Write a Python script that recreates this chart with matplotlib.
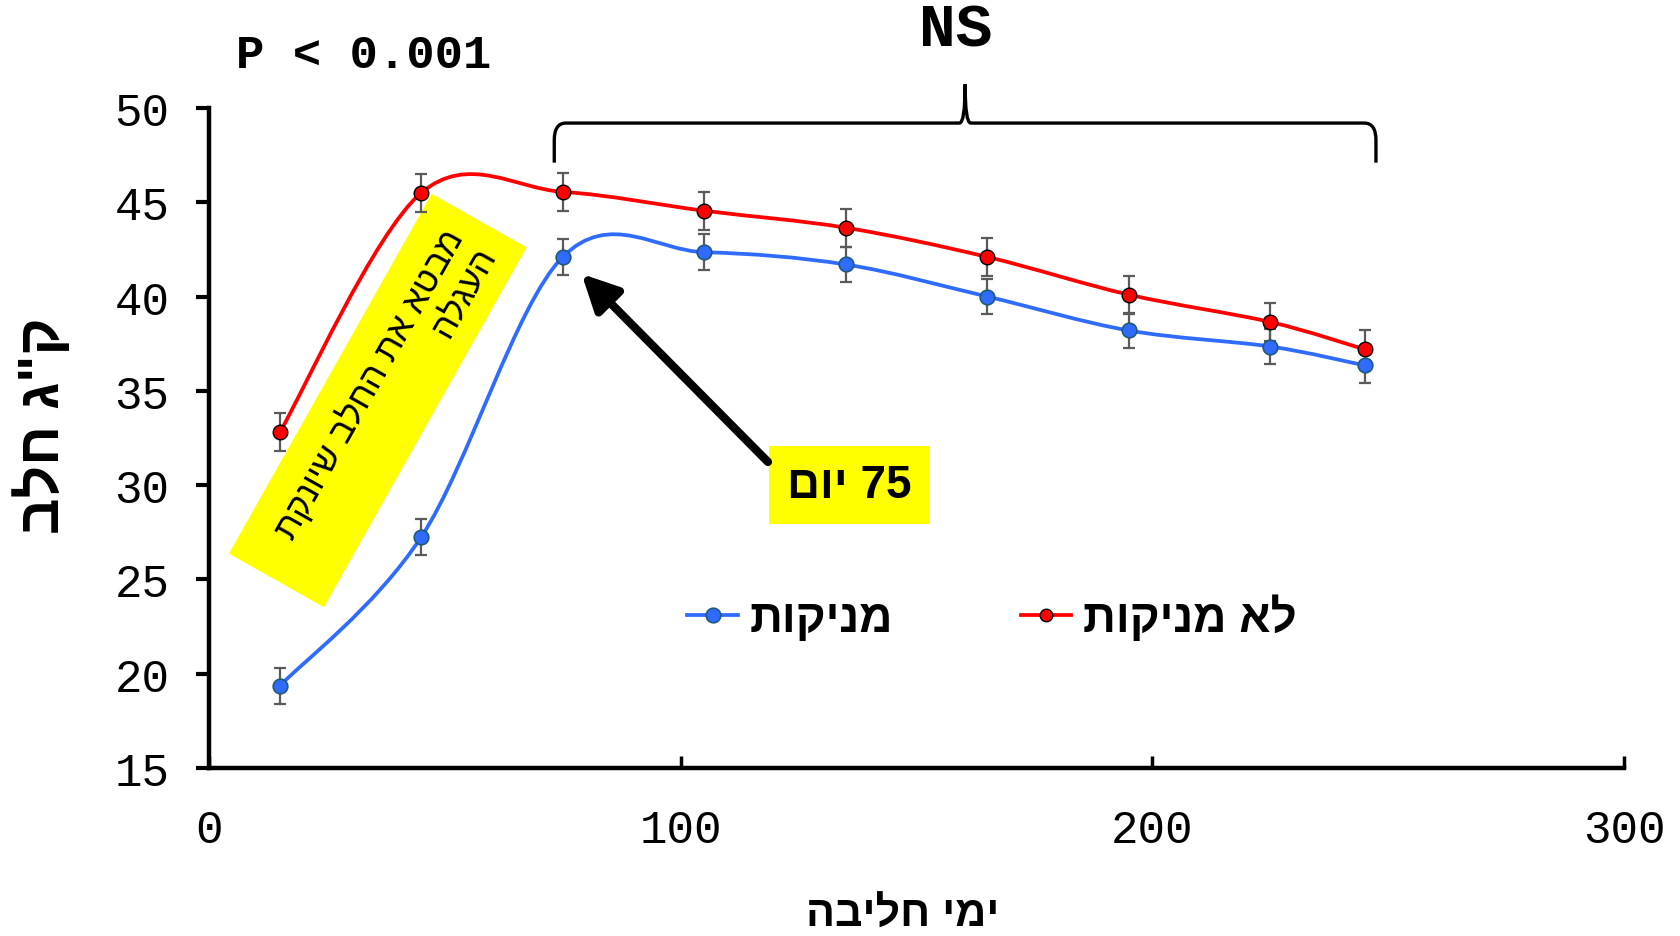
import re

import matplotlib
matplotlib.use("Agg")
import matplotlib.pyplot as plt
from matplotlib.path import Path
from matplotlib.patches import PathPatch, Rectangle
from matplotlib.lines import Line2D
from matplotlib.transforms import Affine2D

# =====================================================
# DATA
# =====================================================

days = [15, 45, 75, 105, 135, 165, 195, 225, 245]

milk_nursing = [19.35, 27.25, 42.1, 42.35, 41.7, 40.0, 38.2, 37.35, 36.35]
err_nursing = [0.95, 0.95, 0.95, 0.95, 0.95, 0.95, 0.95, 0.95, 0.95]

milk_not_nursing = [32.8, 45.5, 45.55, 44.55, 43.65, 42.1, 40.1, 38.65, 37.2]
err_not_nursing = [1.0, 1.0, 1.0, 1.0, 1.0, 1.0, 1.0, 1.0, 1.0]

x_ticks = [0, 100, 200, 300]
y_ticks = [15, 20, 25, 30, 35, 40, 45, 50]

label_nursing = "מניקות"
label_not_nursing = "לא מניקות"
x_title = "ימי חליבה"
y_title = 'ק"ג חלב'
note_lines = ["מבטא את החלב שיונקת", "העגלה"]
day_note = "75 יום"

# =====================================================
# HELPERS
# =====================================================

HEB = ["Liberation Sans", "DejaVu Sans"]
MONO = ["Liberation Mono", "DejaVu Sans Mono"]


def heb(s):
    # no bidi in matplotlib: flip to visual order, keep numbers readable
    out = s[::-1]
    return re.sub(r"\d+", lambda m: m.group(0)[::-1], out)


def smooth_path(xs, ys):
    # excel-like smoothed line: catmull-rom as cubic bezier
    pts = list(zip(xs, ys))
    n = len(pts)
    verts = [pts[0]]
    codes = [Path.MOVETO]
    for i in range(n - 1):
        p0 = pts[max(i - 1, 0)]
        p1 = pts[i]
        p2 = pts[i + 1]
        p3 = pts[min(i + 2, n - 1)]
        c1 = (p1[0] + (p2[0] - p0[0]) / 6, p1[1] + (p2[1] - p0[1]) / 6)
        c2 = (p2[0] - (p3[0] - p1[0]) / 6, p2[1] - (p3[1] - p1[1]) / 6)
        verts += [c1, c2, p2]
        codes += [Path.CURVE4] * 3
    return Path(verts, codes)


# =====================================================
# FIGURE
# =====================================================

RED = "#FF0000"
BLUE = "#2F6BFF"
BLUE_EDGE = "#1F5A78"
ERR = "#5A5A5A"

fig = plt.figure(figsize=(16.8, 9.37), dpi=100)
ax = fig.add_axes([0.1244, 0.1793, 0.8423, 0.7044])

ax.set_xlim(0, 300)
ax.set_ylim(15, 50)

for sp in ["top", "right"]:
    ax.spines[sp].set_visible(False)
for sp in ["left", "bottom"]:
    ax.spines[sp].set_linewidth(3.2)

ax.set_xticks(x_ticks)
ax.set_yticks(y_ticks)
ax.tick_params(axis="y", direction="out", length=9.5, width=3, pad=19)
ax.tick_params(axis="x", direction="in", length=9, width=2.5, pad=29)
for lab in ax.get_xticklabels() + ax.get_yticklabels():
    lab.set_family(MONO)
    lab.set_fontsize(33)

# smoothed lines
ax.add_patch(PathPatch(smooth_path(days, milk_not_nursing), fill=False,
                       ec=RED, lw=2.7, zorder=3))
ax.add_patch(PathPatch(smooth_path(days, milk_nursing), fill=False,
                       ec=BLUE, lw=2.7, zorder=3))

# error bars
ax.errorbar(days, milk_not_nursing, yerr=err_not_nursing, fmt="none",
            ecolor=ERR, elinewidth=1.6, capsize=4.5, capthick=1.6, zorder=4)
ax.errorbar(days, milk_nursing, yerr=err_nursing, fmt="none",
            ecolor=ERR, elinewidth=1.6, capsize=4.5, capthick=1.6, zorder=4)

# markers
ax.plot(days, milk_not_nursing, "o", ms=10.5, mfc=RED, mec="black",
        mew=1.0, zorder=5)
ax.plot(days, milk_nursing, "o", ms=10.5, mfc=BLUE, mec=BLUE_EDGE,
        mew=1.2, zorder=5)

# legend
handles = [
    Line2D([], [], color=BLUE, lw=2.7, marker="o", ms=10.5, mfc=BLUE,
           mec=BLUE_EDGE, mew=1.2),
    Line2D([], [], color=RED, lw=2.7, marker="o", ms=9, mfc=RED,
           mec="black", mew=1.0),
]
fig.legend(handles, [heb(label_nursing), heb(label_not_nursing)],
           loc="center", bbox_to_anchor=(0.5905, 0.3395), ncol=2,
           frameon=False, borderpad=0, handlelength=1.1, handletextpad=0.25,
           columnspacing=2.8,
           prop={"family": HEB, "weight": "bold", "size": 33})

# axis titles
fig.text(903 / 1680, 1 - 916 / 937, heb(x_title), ha="center", va="center",
         family=HEB, weight="bold", fontsize=31)
fig.text(42 / 1680, 1 - 426 / 937, heb(y_title), ha="center", va="center",
         rotation=90, family=HEB, weight="bold", fontsize=41)

# p value and NS
fig.text(236 / 1680, 1 - 56 / 937, "P < 0.001", ha="left", va="center",
         family=MONO, weight="bold", fontsize=34)
fig.text(956 / 1680, 1 - 31 / 937, "NS", ha="center", va="center",
         family=MONO, weight="bold", fontsize=44)

# brace over days 75-245
xL, xR, xc = 73.2, 247.4, 160.3
y_tip, y_bar, y_peak = 47.1, 49.2, 51.25
brace_v = [
    (xL, y_tip), (xL, y_bar - 0.9), (xL, y_bar), (xL + 2.5, y_bar),
    (xc - 1.2, y_bar), (xc, y_bar), (xc, y_peak),
    (xc, y_bar), (xc + 1.2, y_bar),
    (xR - 2.5, y_bar), (xR, y_bar), (xR, y_bar - 0.9), (xR, y_tip),
]
brace_c = [
    Path.MOVETO, Path.LINETO, Path.CURVE3, Path.CURVE3,
    Path.LINETO, Path.CURVE3, Path.CURVE3,
    Path.CURVE3, Path.CURVE3,
    Path.LINETO, Path.CURVE3, Path.CURVE3, Path.LINETO,
]
ax.add_patch(PathPatch(Path(brace_v, brace_c), fill=False, ec="black",
                       lw=2.4, clip_on=False, zorder=6))

# rotated yellow note
box_tr = Affine2D().rotate_deg(60.6).translate(3.778, 5.355) + fig.dpi_scale_trans
ax.add_patch(Rectangle((-2.065, -0.545), 4.13, 1.09, transform=box_tr,
                       fc="#FFFF00", ec="none", clip_on=False, zorder=2))
ax.text(3.85, 5.44, "\n".join(heb(s) for s in note_lines),
        transform=fig.dpi_scale_trans, rotation=60.6, rotation_mode="anchor",
        ha="center", va="center", multialignment="right", linespacing=1.15,
        family=HEB, fontsize=25, zorder=7)

# day 75 note and arrow
ax.add_patch(Rectangle((118.7, 27.94), 34.2, 4.14, fc="#FFFF00", ec="none",
                       zorder=2))
ax.text(135.8, 30.0, heb(day_note), ha="center", va="center",
        family=HEB, weight="bold", fontsize=33, zorder=7)
ax.annotate("", xy=(79.0, 41.2), xytext=(118.5, 31.23),
            arrowprops=dict(arrowstyle="-|>,head_length=0.6,head_width=0.3",
                            mutation_scale=36, lw=6, color="black",
                            shrinkA=0, shrinkB=0),
            zorder=6)

fig.savefig("out.png", dpi=100)
